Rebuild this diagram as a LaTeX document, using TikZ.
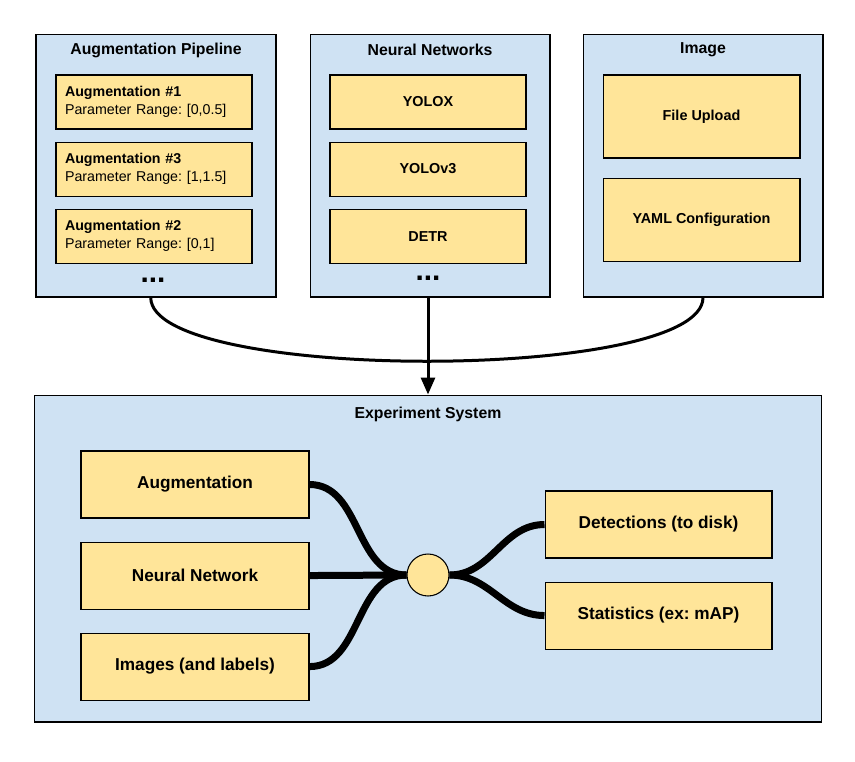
\documentclass[tikz,border=0pt]{standalone}
\usepackage{fontspec}
\setmainfont{Liberation Sans}
\usetikzlibrary{%
	arrows.meta,%
	positioning,%
	calc,%
}
\definecolor{cpanelblue}{RGB}{207, 226, 243}
\definecolor{citemyellow}{RGB}{255, 229, 153}
\tikzset{
	>={Triangle[width=0.28cm,length=0.34cm]},%
	nodes={align=center},%
	panelnode/.style={%
			draw,%
			rectangle,%
			line width=0.6pt,%
			fill=cpanelblue,%
			inner sep=0},%
	itemnode/.style={%
			draw,%
			rectangle,%
			line width=0.6pt,%
			fill=citemyellow,%
			font={\frenchspacing\bfseries\fontsize{8.2}{10.2}\selectfont},%
			minimum width=3.92cm,%
			minimum height=1.08cm},%
	augnode/.style={%
			itemnode,%
			font={\frenchspacing\fontsize{8.1}{10.2}\selectfont},%
			align=left,%
			text width=3.56cm,%
			inner xsep=0.18cm},%
	bignode/.style={%
			itemnode,%
			font={\frenchspacing\bfseries\fontsize{9.8}{11}\selectfont},%
			minimum width=4.56cm,%
			minimum height=1.34cm},%
	titlenode/.style={%
			font={\bfseries\fontsize{9}{10}\selectfont},%
			inner sep=0},%
	dotsnode/.style={%
			font={\bfseries\fontsize{17}{17}\selectfont},%
			inner sep=0},%
	hubnode/.style={%
			draw,%
			circle,%
			line width=0.6pt,%
			fill=citemyellow,%
			minimum size=0.84cm,%
			inner sep=0},%
	wire/.style={line width=0.14cm},%
	link/.style={line width=0.06cm},%
}

\begin{document}
\begin{tikzpicture}[x=0.02cm, y=-0.02cm]%
	\useasboundingbox (0,0) rectangle (855,761);

	\node[panelnode, minimum width=4.8cm, minimum height=5.26cm] (pipe) at (156,165.5) {};
	\node[titlenode] (pipetitle) at (156,50) {Augmentation Pipeline};
	\node[augnode] (aug1) at (154,102) {\textbf{Augmentation \#1}\\Parameter Range: [0,0.5]};
	\node[augnode] (aug3) [below=0.24cm of aug1] {\textbf{Augmentation \#3}\\Parameter Range: [1,1.5]};
	\node[augnode] (aug2) [below=0.24cm of aug3] {\textbf{Augmentation \#2}\\Parameter Range: [0,1]};
	\node[dotsnode] (pipedots) at (153,280) {...};

	\node[panelnode, minimum width=4.8cm, minimum height=5.26cm] (nets) at (430,165.5) {};
	\node[titlenode] (netstitle) at (430,50) {Neural Networks};
	\node[itemnode] (yolox) at (428,102) {YOLOX};
	\node[itemnode] (yolov3) [below=0.24cm of yolox] {YOLOv3};
	\node[itemnode] (detr) [below=0.24cm of yolov3] {DETR};
	\node[dotsnode] (netsdots) at (428,278) {...};

	\node[panelnode, minimum width=4.8cm, minimum height=5.26cm] (img) at (703,165.5) {};
	\node[titlenode] (imgtitle) at (703,50) {Image};
	\node[itemnode, minimum width=3.94cm, minimum height=1.66cm] (upload) at (701.5,116.5) {File Upload};
	\node[itemnode, minimum width=3.94cm, minimum height=1.66cm] (yaml) [below=0.38cm of upload] {YAML Configuration};

	\node[panelnode, minimum width=15.76cm, minimum height=6.54cm] (exp) at (428,558.5) {};
	\node[titlenode] (exptitle) at (428,414) {Experiment System};
	\node[bignode] (augin) at (195,484.5) {Augmentation};
	\node[bignode] (netin) [below=0.46cm of augin] {Neural Network};
	\node[bignode] (imgin) [below=0.46cm of netin] {Images (and labels)};
	\node[hubnode] (hub) at (428,575) {};
	\node[bignode, minimum width=4.54cm] (detout) at (658.5,524.5) {Detections (to disk)};
	\node[bignode, minimum width=4.54cm] (statout) [below=0.46cm of detout] {Statistics (ex: mAP)};

	\draw[link] ([xshift=-3pt]pipe.south) .. controls +(0,85) and +(0,85) .. (img.south);
	\draw[link, ->] (netsdots |- nets.south) to (netsdots |- exp.north);
	\draw[wire] (augin.east) to[out=0, in=180] (hub.west);
	\draw[wire] (netin.east) to (hub.west);
	\draw[wire] (imgin.east) to[out=0, in=180] (hub.west);
	\draw[wire] (hub.east) to[out=0, in=180] (detout.west);
	\draw[wire] (hub.east) to[out=0, in=180] (statout.west);
\end{tikzpicture}
\end{document}
